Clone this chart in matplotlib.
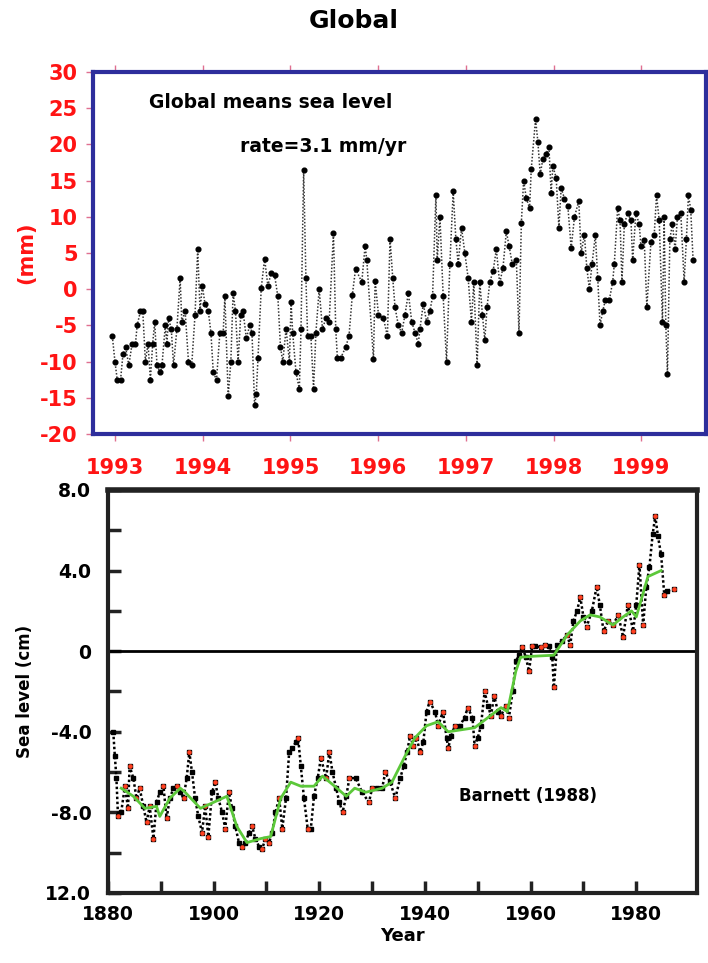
import numpy as np
import matplotlib.pyplot as plt

plt.rcParams["axes.unicode_minus"] = False

# ---------- top panel: TOPEX/Poseidon global mean sea level (mm) ----------
top_years = [
    1992.970, 1993.000, 1993.026, 1993.064, 1993.091, 1993.121, 1993.158, 1993.196,
    1993.234, 1993.253, 1993.291, 1993.317, 1993.347, 1993.377, 1993.404, 1993.430,
    1993.453, 1993.479, 1993.517, 1993.536, 1993.574, 1993.592, 1993.611, 1993.642,
    1993.668, 1993.706, 1993.743, 1993.762, 1993.800, 1993.838, 1993.875, 1993.913,
    1993.943, 1993.970, 1993.996, 1994.026, 1994.064, 1994.094, 1994.121, 1994.158,
    1994.196, 1994.234, 1994.253, 1994.291, 1994.321, 1994.347, 1994.374, 1994.404,
    1994.434, 1994.460, 1994.498, 1994.536, 1994.562, 1994.592, 1994.611, 1994.630,
    1994.668, 1994.706, 1994.743, 1994.781, 1994.819, 1994.857, 1994.887, 1994.913,
    1994.951, 1994.989, 1995.008, 1995.026, 1995.064, 1995.102, 1995.121, 1995.151,
    1995.177, 1995.196, 1995.234, 1995.264, 1995.291, 1995.328, 1995.366, 1995.404,
    1995.442, 1995.491, 1995.517, 1995.536, 1995.574, 1995.630, 1995.668, 1995.706,
    1995.743, 1995.814, 1995.852, 1995.871, 1995.947, 1995.966, 1996.004, 1996.061,
    1996.106, 1996.136, 1996.167, 1996.193, 1996.231, 1996.269, 1996.307, 1996.345,
    1996.383, 1996.420, 1996.458, 1996.477, 1996.515, 1996.553, 1996.591, 1996.621,
    1996.659, 1996.674, 1996.705, 1996.742, 1996.780, 1996.818, 1996.856, 1996.886,
    1996.913, 1996.951, 1996.989, 1997.027, 1997.064, 1997.091, 1997.129, 1997.159,
    1997.189, 1997.216, 1997.242, 1997.273, 1997.311, 1997.348, 1997.386, 1997.424,
    1997.462, 1997.492, 1997.530, 1997.576, 1997.606, 1997.633, 1997.659, 1997.689,
    1997.727, 1997.746, 1997.795, 1997.822, 1997.848, 1997.879, 1997.917, 1997.947,
    1997.973, 1997.992, 1998.030, 1998.061, 1998.087, 1998.125, 1998.163, 1998.201,
    1998.239, 1998.288, 1998.314, 1998.352, 1998.379, 1998.409, 1998.439, 1998.477,
    1998.504, 1998.530, 1998.561, 1998.591, 1998.636, 1998.674, 1998.693, 1998.731,
    1998.758, 1998.780, 1998.807, 1998.845, 1998.883, 1998.902, 1998.939, 1998.977,
    1998.996, 1999.034, 1999.064, 1999.110, 1999.148, 1999.174, 1999.205, 1999.242,
    1999.261, 1999.280, 1999.299, 1999.326, 1999.356, 1999.386, 1999.413, 1999.451,
    1999.489, 1999.515, 1999.538, 1999.564, 1999.591,
]
top_mm = [
    -6.5, -10, -12.5, -12.5, -9, -8, -10.5, -7.5,
    -7.5, -5, -3, -3, -10, -7.5, -12.5, -7.5,
    -4.5, -10.5, -11.5, -10.5, -5, -7.5, -4, -5.5,
    -10.5, -5.5, 1.5, -4.5, -3, -10, -10.5, -3.5,
    5.5, -3, 0.5, -2, -3, -6, -11.5, -12.5,
    -6, -6, -1, -14.8, -10, -0.5, -3, -10,
    -3.5, -3, -6.8, -5, -6, -16, -14.5, -9.5,
    0.2, 4.2, 0.5, 2.2, 2.0, -1, -8, -10,
    -5.5, -10, -1.8, -6, -11.5, -13.8, -5.5, 16.5,
    1.5, -6.5, -6.5, -13.8, -6, 0, -5.5, -4,
    -4.5, 7.8, -5.5, -9.5, -9.5, -8, -6.5, -0.8,
    2.8, 1, 6, 4, -9.6, 1.2, -3.5, -4,
    -6.5, 7, 1.5, -2.5, -5, -6, -3.5, -0.5,
    -4.5, -6, -7.5, -5.5, -2, -4.5, -3, -1,
    13, 4, 10, -1, -10, 3.5, 13.5, 7,
    3.5, 8.5, 5, 1.5, -4.5, 1, -10.5, 1,
    -3.5, -7, -2.5, 1, 2.5, 5.5, 0.8, 3,
    8, 6, 3.5, 4, -6, 9.2, 15, 12.6,
    11.2, 16.6, 23.5, 20.3, 15.9, 18, 18.7, 19.7,
    13.3, 17, 15.4, 8.5, 14, 12.5, 11.5, 5.7,
    10, 12.2, 5, 7.5, 3, 0, 3.5, 7.5,
    1.5, -5, -3, -1.5, -1.5, 1, 3.5, 11.2,
    9.5, 1, 9, 10.5, 9.5, 4, 10.5, 9,
    6, 6.8, -2.5, 6.5, 7.5, 13, 9.5, -4.5,
    10, -5, -11.7, 7, 9, 5.5, 10, 10.5,
    1, 7, 13, 11, 4,
]
top_xticks = [1993, 1994, 1995, 1996, 1997, 1998, 1999]
top_yticks = [30, 25, 20, 15, 10, 5, 0, -5, -10, -15, -20]

# ---------- bottom panel: Barnett (1988) tide-gauge record (cm) ----------
tg_years = [
    1881.0, 1881.3, 1881.6, 1881.9, 1882.5, 1883.2, 1883.8, 1884.1, 1884.8, 1885.4,
    1886.0, 1886.7, 1887.3, 1887.9, 1888.6, 1889.2, 1889.8, 1890.5, 1891.1, 1891.7,
    1892.4, 1893.0, 1893.7, 1894.3, 1894.9, 1895.4, 1895.9, 1896.5, 1897.1, 1897.8,
    1898.4, 1899.0, 1899.7, 1900.3, 1900.9, 1901.6, 1902.2, 1902.9, 1903.5, 1904.1,
    1904.8, 1905.4, 1906.0, 1906.7, 1907.3, 1907.9, 1908.6, 1909.2, 1909.8, 1910.5,
    1911.1, 1911.7, 1912.4, 1913.0, 1913.7, 1914.3, 1914.9, 1915.6, 1916.0, 1916.5,
    1917.1, 1917.8, 1918.4, 1919.0, 1919.7, 1920.3, 1921.3, 1921.9, 1922.5, 1923.2,
    1923.8, 1924.4, 1925.1, 1925.7, 1926.9, 1928.1, 1929.4, 1930.0, 1930.9, 1931.9,
    1932.5, 1933.4, 1934.4, 1935.3, 1936.0, 1936.6, 1937.2, 1937.8, 1938.4, 1939.1,
    1939.7, 1940.3, 1940.9, 1941.9, 1942.5, 1943.4, 1944.1, 1944.4, 1945.0, 1945.6,
    1946.6, 1947.5, 1948.1, 1949.0, 1949.4, 1950.0, 1950.6, 1951.3, 1951.9, 1952.5,
    1953.1, 1953.8, 1954.4, 1955.3, 1955.9, 1956.6, 1957.2, 1957.8, 1958.4, 1959.1,
    1959.7, 1960.3, 1960.9, 1961.9, 1962.8, 1963.4, 1964.1, 1964.4, 1965.0, 1965.9,
    1966.9, 1967.5, 1968.1, 1968.8, 1969.4, 1970.0, 1970.6, 1971.6, 1972.5, 1973.1,
    1973.8, 1974.7, 1975.6, 1976.6, 1977.5, 1978.4, 1979.4, 1980.0, 1980.6, 1981.3,
    1981.9, 1982.5, 1983.1, 1983.6, 1984.1, 1984.7, 1985.3, 1985.9, 1987.2,
]
tg_cm = [
    -4.0, -5.2, -6.3, -8.2, -8.0, -6.7, -7.8, -5.7, -6.3, -7.3,
    -6.8, -7.7, -8.5, -7.7, -9.3, -7.5, -7.0, -6.7, -8.3, -7.3,
    -6.8, -6.7, -7.0, -7.3, -6.3, -5.0, -6.0, -7.3, -8.2, -9.0,
    -7.7, -9.2, -7.0, -6.5, -7.3, -8.0, -8.8, -7.0, -7.8, -8.7,
    -9.5, -9.7, -9.5, -9.0, -8.7, -9.3, -9.7, -9.8, -9.3, -9.5,
    -9.0, -8.0, -7.3, -8.8, -7.3, -5.0, -4.8, -4.5, -4.3, -5.7,
    -7.3, -8.8, -8.8, -7.2, -6.3, -5.3, -6.3, -5.0, -6.0, -6.8,
    -7.5, -8.0, -7.2, -6.3, -6.3, -7.0, -7.5, -6.8, -6.8, -6.8,
    -6.0, -6.5, -7.3, -6.3, -5.7, -5.0, -4.2, -4.7, -4.3, -5.0,
    -4.5, -3.0, -2.5, -3.0, -3.7, -3.0, -4.3, -4.8, -4.2, -3.7,
    -3.7, -3.3, -2.8, -3.3, -4.7, -4.3, -3.7, -2.0, -2.7, -3.2,
    -2.2, -3.0, -3.2, -2.7, -3.3, -2.0, -0.5, -0.2, 0.2, -0.3,
    -1.0, 0.25, 0.25, 0.2, 0.3, 0.25, -0.3, -1.8, 0.3, 0.5,
    0.8, 0.3, 1.5, 2.0, 2.7, 1.7, 1.2, 2.0, 3.2, 2.3,
    1.0, 1.5, 1.3, 1.8, 0.7, 2.3, 1.0, 2.3, 4.3, 1.3,
    3.2, 4.2, 5.8, 6.7, 5.7, 4.8, 2.8, 3.0, 3.1,
]
smooth_years = [
    1882.5, 1884.8, 1887.0, 1889.2, 1889.8, 1891.7, 1893.7, 1894.6, 1897.5, 1900.0,
    1902.5, 1904.4, 1906.3, 1908.9, 1910.8, 1912.7, 1914.6, 1916.5, 1919.0, 1920.6,
    1922.9, 1925.1, 1926.7, 1928.8, 1931.9, 1933.75, 1936.25, 1938.1, 1940.3, 1942.5,
    1944.4, 1949.4, 1951.9, 1954.4, 1955.6, 1957.2, 1958.1, 1960.6, 1964.4, 1966.9,
    1969.4, 1971.25, 1973.1, 1975.6, 1977.5, 1979.1, 1980.0, 1982.2, 1984.7,
]
smooth_cm = [
    -6.8, -7.2, -7.8, -7.7, -8.2, -7.3, -6.8, -7.0, -7.8, -7.5,
    -7.2, -8.7, -9.5, -9.3, -9.2, -7.3, -6.5, -6.7, -6.7, -6.2,
    -6.7, -7.2, -6.8, -7.0, -6.8, -6.5, -5.2, -4.3, -3.7, -3.5,
    -4.0, -3.8, -3.3, -2.8, -3.0, -1.0, -0.3, -0.25, -0.2, 0.8,
    1.5, 1.8, 1.7, 1.3, 1.7, 2.0, 1.7, 3.7, 4.0,
]
bot_yticks = [8, 4, 0, -4, -8, -12]
bot_ylabels = ["8.0", "4.0", "0", "-4.0", "-8.0", "12.0"]
bot_xticks = [1880, 1900, 1920, 1940, 1960, 1980]

RED = "#ff1414"
BLUE = "#2e2e9c"

fig = plt.figure(figsize=(7.08, 9.63), dpi=100)
fig.text(0.5, 0.978, "Global", ha="center", va="center", fontsize=18, fontweight="bold")

# ---------- top ----------
ax1 = fig.add_axes([0.1314, 0.5493, 0.866, 0.3759])
ax1.plot(top_years, top_mm, color="#333333", ls=(0, (1, 1.2)), lw=1.1,
         marker="o", ms=3.4, mfc="black", mec="black")
ax1.set_xlim(1992.75, 1999.74)
ax1.set_ylim(-20, 30)
ax1.set_xticks(top_xticks)
ax1.set_yticks(top_yticks)
ax1.tick_params(direction="out", length=5, width=1, color="#e07090",
                labelcolor=RED, labelsize=15, top=True)
ax1.tick_params(axis="x", pad=12)
ax1.tick_params(axis="y", pad=6)
for lab in ax1.get_xticklabels() + ax1.get_yticklabels():
    lab.set_fontweight("bold")
for sp in ax1.spines.values():
    sp.set_color(BLUE)
    sp.set_linewidth(3)
ax1.set_ylabel("(mm)", color=RED, fontsize=15, fontweight="bold", labelpad=3)
ax1.text(0.29, 0.915, "Global means sea level", transform=ax1.transAxes,
         ha="center", va="center", fontsize=13.5, fontweight="bold")
ax1.text(0.375, 0.795, "rate=3.1 mm/yr", transform=ax1.transAxes,
         ha="center", va="center", fontsize=13.5, fontweight="bold")

# ---------- bottom ----------
ax2 = fig.add_axes([0.1525, 0.0727, 0.832, 0.4185])
ax2.axhline(0, color="black", lw=2)
tg_y = np.array(tg_cm)
tg_x = np.array(tg_years)
ax2.plot(tg_x, tg_y, color="black", ls=(0, (1, 1)), lw=1.8,
         marker="s", ms=2.2, mfc="black", mec="black")
# red dots at the peaks and troughs of the record
ext = np.r_[False, ((tg_y[1:-1] > tg_y[:-2]) & (tg_y[1:-1] >= tg_y[2:])) |
            ((tg_y[1:-1] < tg_y[:-2]) & (tg_y[1:-1] <= tg_y[2:])), True]
ax2.plot(tg_x[ext], tg_y[ext], ls="none", marker="o", ms=3.3,
         mfc="#ff4020", mec="none")
ax2.plot(smooth_years, smooth_cm, color="#5cc83a", lw=2)
ax2.set_xlim(1880, 1991.5)
ax2.set_ylim(-12, 8)
ax2.set_xticks(bot_xticks)
ax2.set_xticks(np.arange(1890, 1990, 20), minor=True)
ax2.set_yticks(bot_yticks)
ax2.set_yticklabels(bot_ylabels)
ax2.set_yticks([6, 2, -2, -6, -10], minor=True)
ax2.tick_params(which="both", direction="in", length=9, width=2.5, color="#222222",
                labelsize=13.5)
ax2.tick_params(axis="x", pad=9)
ax2.tick_params(axis="y", pad=12)
for lab in ax2.get_xticklabels() + ax2.get_yticklabels():
    lab.set_fontweight("bold")
for sp in ax2.spines.values():
    sp.set_color("#222222")
    sp.set_linewidth(3)
ax2.spines["top"].set_linewidth(4)
ax2.set_ylabel("Sea level (cm)", fontsize=12, fontweight="bold", labelpad=8)
ax2.set_xlabel("Year", fontsize=13, fontweight="bold", labelpad=2)
ax2.text(0.713, 0.24, "Barnett (1988)", transform=ax2.transAxes,
         ha="center", va="center", fontsize=12, fontweight="bold")

fig.savefig("out.png", dpi=100)
